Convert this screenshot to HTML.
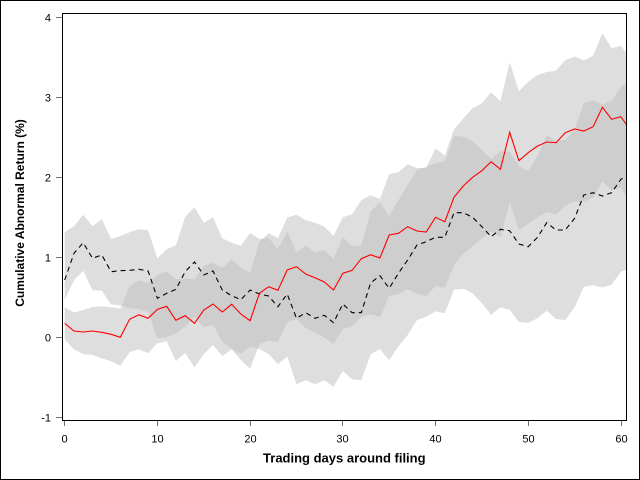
<!DOCTYPE html>
<html><head><meta charset="utf-8"><style>
html,body{margin:0;padding:0;background:#fff;}
svg{display:block;}
text{font-family:"Liberation Sans",Arial,sans-serif;}
</style></head><body>
<svg width="640" height="480" viewBox="0 0 640 480" xmlns="http://www.w3.org/2000/svg">
<rect x="0" y="0" width="640" height="480" fill="#fff"/>
<defs><clipPath id="cp"><rect x="63" y="14" width="563" height="406"/></clipPath></defs>
<g clip-path="url(#cp)">
<polygon fill="#bdbdbd" fill-opacity="0.5" points="64.7,232 74,226.3 83.2,214.7 92.5,226.3 101.8,219.3 111.1,239 120.3,236 129.6,232.3 138.9,229.3 148.1,230 157.4,258.3 166.7,249.3 175.9,245.3 185.2,216.7 194.5,207.3 203.8,222.7 213,217.3 222.3,238.3 231.6,242.7 240.8,245.7 250.1,233 259.4,239 268.6,238 277.9,249.2 287.2,231.5 296.5,252.3 305.7,245.2 315,252.3 324.3,250.3 333.5,258.7 342.8,237 352.1,246.2 361.3,245.2 370.6,211.5 379.9,202.4 389.2,216.3 398.4,200.3 407.7,185 417,170 426.2,166.7 435.5,163.3 444.8,161.3 454,135.7 463.3,136.7 472.6,141.3 481.9,150 491.1,158.7 500.4,151.3 509.7,151.7 518.9,166 528.2,170.7 537.5,156.3 546.7,134.7 556,141 565.3,140 574.6,129.3 583.8,103 593.1,100.2 602.4,104.5 611.6,100.7 620.9,86.8 630.2,80 630.2,268 620.9,271.8 611.6,284.7 602.4,287.5 593.1,285.2 583.8,287 574.6,307.3 565.3,320 556,319 546.7,310.7 537.5,318.3 528.2,322.7 518.9,322 509.7,309.7 500.4,307.3 491.1,314.7 481.9,303.4 472.6,293.3 463.3,288.7 454,289.7 444.8,313.3 435.5,311.3 426.2,316.7 417,320 407.7,335 398.4,346.3 389.2,360.3 379.9,349 370.6,354.5 361.3,380.2 352.1,379.2 342.8,371 333.5,386.7 324.3,380.3 315,384.3 305.7,380.2 296.5,384.3 287.2,356.5 277.9,364.2 268.6,354 259.4,349 250.1,347 240.8,353.7 231.6,348.7 222.3,341.7 213,324.7 203.8,327.3 194.5,316.7 185.2,326.7 175.9,333.3 166.7,337.3 157.4,338.3 148.1,312 138.9,309.3 129.6,308.3 120.3,305.4 111.1,304.4 101.8,290.7 92.5,290.3 83.2,270.7 74,280.3 64.7,300"/>
<polygon fill="#bdbdbd" fill-opacity="0.5" points="64.7,307.3 74,312.5 83.2,310 92.5,307 101.8,306.3 111.1,307.3 120.3,308.8 129.6,286.3 138.9,280.1 148.1,283.3 157.4,275.3 166.7,271.3 175.9,279.3 185.2,278.7 194.5,279.3 203.8,266 213,263 222.3,268 231.6,259.3 240.8,268 250.1,272.7 259.4,242.3 268.6,233.2 277.9,238.3 287.2,217.5 296.5,214.7 305.7,220 315,222.7 324.3,226.6 333.5,236 342.8,217.3 352.1,214.3 361.3,200.3 370.6,195.2 379.9,199 389.2,174 398.4,172.3 407.7,164.2 417,168 426.2,168 435.5,148.3 444.8,155.7 454,129.3 463.3,118.5 472.6,108.3 481.9,103.2 491.1,92.2 500.4,101.3 509.7,62.3 518.9,91.2 528.2,81.7 537.5,75 546.7,72 556,70.7 565.3,60.2 574.6,56.5 583.8,60.5 593.1,55.7 602.4,33.3 611.6,48.3 620.9,45.7 630.2,58 630.2,202 620.9,187.7 611.6,190.3 602.4,181.3 593.1,197.7 583.8,201.5 574.6,201.5 565.3,205.2 556,214.7 546.7,212 537.5,217 528.2,223.7 518.9,230.2 509.7,202.3 500.4,237.3 491.1,231.2 481.9,238.2 472.6,246.3 463.3,253.5 454,265.3 444.8,287.7 435.5,286.3 426.2,296 417,294 407.7,289.2 398.4,294.3 389.2,296 379.9,317 370.6,314.2 361.3,317.1 352.1,326.3 342.8,329.3 333.5,344 324.3,337.4 315,332.7 305.7,328 296.5,318.7 287.2,322.5 277.9,342.3 268.6,340.2 259.4,344.3 250.1,368.7 240.8,360 231.6,349.3 222.3,356 213,345 203.8,354 194.5,367.3 185.2,352.7 175.9,361.3 166.7,341.3 157.4,343.3 148.1,353.3 138.9,349.3 129.6,352.3 120.3,365.8 111.1,361.3 101.8,358.3 92.5,355 83.2,354 74,349.5 64.7,339.3"/>
<polyline fill="none" stroke="#000" stroke-width="1.1" stroke-dasharray="5,4" points="64.7,280 74,253.3 83.2,242.7 92.5,258.3 101.8,255 111.1,271.7 120.3,270.7 129.6,270.3 138.9,269.3 148.1,271 157.4,298.3 166.7,293.3 175.9,289.3 185.2,271.7 194.5,262 203.8,275 213,271 222.3,290 231.6,295.7 240.8,299.7 250.1,290 259.4,294 268.6,296 277.9,306.7 287.2,294 296.5,318.3 305.7,312.7 315,318.3 324.3,315.3 333.5,322.7 342.8,304 352.1,312.7 361.3,312.7 370.6,283 379.9,275.7 389.2,288.3 398.4,273.3 407.7,260 417,245 426.2,241.7 435.5,237.3 444.8,237.3 454,212.7 463.3,212.7 472.6,217.3 481.9,226.7 491.1,236.7 500.4,229.3 509.7,230.7 518.9,244 528.2,246.7 537.5,237.3 546.7,222.7 556,230 565.3,230 574.6,218.3 583.8,195 593.1,192.7 602.4,196 611.6,192.7 620.9,179.3 630.2,174"/>
<polyline fill="none" stroke="#ff0000" stroke-width="1.1" points="64.7,323.3 74,331 83.2,332 92.5,331 101.8,332.3 111.1,334.3 120.3,337.3 129.6,319.3 138.9,314.7 148.1,318.3 157.4,309.3 166.7,306.3 175.9,320.3 185.2,315.7 194.5,323.3 203.8,310 213,304 222.3,312 231.6,304.3 240.8,314 250.1,320.7 259.4,293.3 268.6,286.7 277.9,290.3 287.2,270 296.5,266.7 305.7,274 315,277.7 324.3,282 333.5,290 342.8,273.3 352.1,270.3 361.3,258.7 370.6,254.7 379.9,258 389.2,235 398.4,233.3 407.7,226.7 417,231 426.2,232 435.5,217.3 444.8,221.7 454,197.3 463.3,186 472.6,177.3 481.9,170.7 491.1,161.7 500.4,169.3 509.7,132.3 518.9,160.7 528.2,152.7 537.5,146 546.7,142 556,142.7 565.3,132.7 574.6,129 583.8,131 593.1,126.7 602.4,107.3 611.6,119.3 620.9,116.7 630.2,130"/>
</g>
<rect x="62.5" y="13.5" width="564" height="407" fill="none" stroke="#000" stroke-width="1"/>
<g stroke="#707070" stroke-width="1">
<line x1="56" y1="17.5" x2="62" y2="17.5"/>
<line x1="56" y1="97.5" x2="62" y2="97.5"/>
<line x1="56" y1="177.5" x2="62" y2="177.5"/>
<line x1="56" y1="257.5" x2="62" y2="257.5"/>
<line x1="56" y1="337.5" x2="62" y2="337.5"/>
<line x1="56" y1="417.5" x2="62" y2="417.5"/>
<line x1="64.5" y1="421" x2="64.5" y2="426"/>
<line x1="157.5" y1="421" x2="157.5" y2="426"/>
<line x1="250.5" y1="421" x2="250.5" y2="426"/>
<line x1="342.5" y1="421" x2="342.5" y2="426"/>
<line x1="435.5" y1="421" x2="435.5" y2="426"/>
<line x1="528.5" y1="421" x2="528.5" y2="426"/>
<line x1="621.5" y1="421" x2="621.5" y2="426"/>
</g>
<g font-size="11" fill="#000" text-anchor="end">
<text x="51" y="21.5">4</text>
<text x="51" y="101.5">3</text>
<text x="51" y="181.5">2</text>
<text x="51" y="261.5">1</text>
<text x="51" y="341.5">0</text>
<text x="51" y="421.5">-1</text>
</g>
<g font-size="11" fill="#000" text-anchor="middle">
<text x="64.5" y="442.5">0</text>
<text x="157.5" y="442.5">10</text>
<text x="250.5" y="442.5">20</text>
<text x="342.5" y="442.5">30</text>
<text x="435.5" y="442.5">40</text>
<text x="528.5" y="442.5">50</text>
<text x="621.5" y="442.5">60</text>
</g>
<text x="344.3" y="462.5" font-size="13" font-weight="bold" text-anchor="middle">Trading days around filing</text>
<text transform="translate(24,213) rotate(-90)" font-size="12" font-weight="bold" text-anchor="middle">Cumulative Abnormal Return (%)</text>
<rect x="0.5" y="0.5" width="639" height="479" fill="none" stroke="#000" stroke-width="1"/>
</svg>
</body></html>
